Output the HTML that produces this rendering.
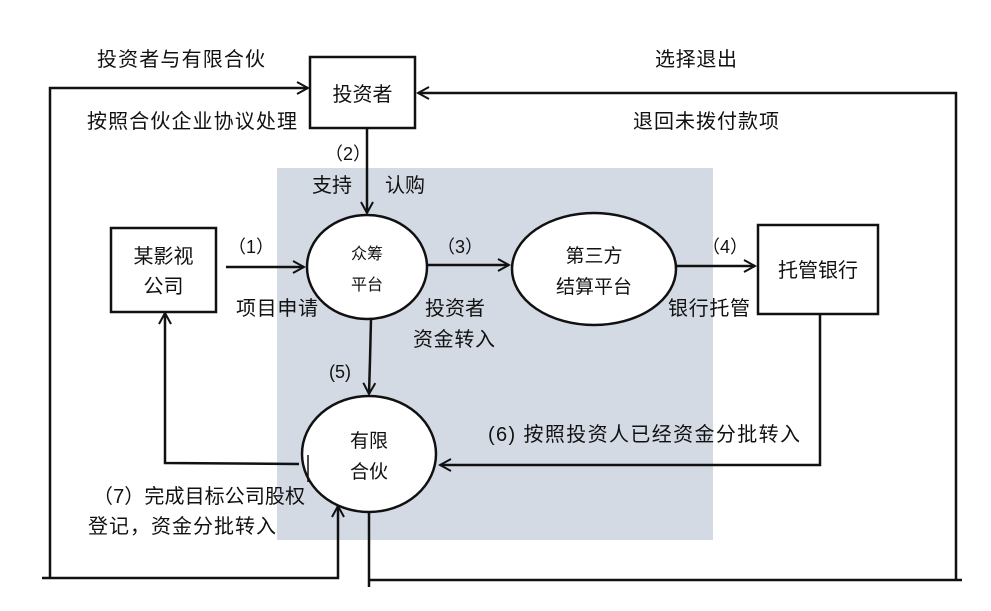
<!DOCTYPE html>
<html><head><meta charset="utf-8"><style>
html,body{margin:0;padding:0;background:#fff;}
svg{display:block;}
text{font-family:"Liberation Sans","Noto Sans CJK SC",sans-serif;fill:#111;}
</style></head><body>
<svg width="991" height="611" viewBox="0 0 991 611" xmlns="http://www.w3.org/2000/svg">
<defs>
<marker id="a" markerWidth="14" markerHeight="14" refX="12" refY="7" orient="auto" markerUnits="userSpaceOnUse">
<path d="M1,1 L12,7 L1,13" fill="none" stroke="#111" stroke-width="2"/>
</marker>
</defs>
<rect x="277" y="168" width="436" height="372" fill="#d4dae4"/>
<g stroke="#111" stroke-width="2.5" fill="none">
<rect x="310" y="57" width="105" height="71" fill="#fff"/>
<rect x="111" y="228" width="105" height="84" fill="#fff"/>
<rect x="758" y="225" width="120" height="89" fill="#fff"/>
<ellipse cx="367" cy="267" rx="60" ry="52" fill="#fff"/>
<ellipse cx="594" cy="269" rx="82" ry="56" fill="#fff"/>
<ellipse cx="369" cy="454" rx="67" ry="58" fill="#fff"/>
<line x1="367" y1="128" x2="367" y2="213" marker-end="url(#a)"/>
<line x1="226" y1="267" x2="304" y2="267" marker-end="url(#a)"/>
<line x1="428" y1="265" x2="509" y2="265" marker-end="url(#a)"/>
<line x1="677" y1="266" x2="755" y2="266" marker-end="url(#a)"/>
<polyline points="371,319 370,360 369,394" marker-end="url(#a)"/>
<polyline points="820,314 820,465 440,465" marker-end="url(#a)"/>
<polyline points="299,464 165,463 165,313" marker-end="url(#a)"/>
<polyline points="50,578 50,88 308,88" marker-end="url(#a)"/>
<polyline points="42,578 338,578 338,506" marker-end="url(#a)"/>
<polyline points="369,512 369,587"/>
<polyline points="369,580 962,580"/>
<polyline points="956,580 956,93 418,93" marker-end="url(#a)"/>
<line x1="308" y1="455" x2="308" y2="482" stroke-width="1.5"/>
</g>
<g font-size="20">
<text x="97" y="66" textLength="168">投资者与有限合伙</text>
<text x="87" y="128" textLength="210">按照合伙企业协议处理</text>
<text x="655" y="66" textLength="82">选择退出</text>
<text x="633" y="128" textLength="146">退回未拨付款项</text>
<text x="325" y="160" font-size="18">（2）</text>
<text x="312" y="192">支持</text>
<text x="385" y="192">认购</text>
<text x="228" y="253" font-size="18">（1）</text>
<text x="236" y="315" textLength="82">项目申请</text>
<text x="437" y="253" font-size="18">（3）</text>
<text x="425" y="315">投资者</text>
<text x="413" y="346" textLength="82">资金转入</text>
<text x="702" y="253" font-size="18">（4）</text>
<text x="668" y="315" textLength="82">银行托管</text>
<text x="329" y="378" font-size="18">(5)</text>
<text x="488" y="441" textLength="312">(6) 按照投资人已经资金分批转入</text>
<text x="93" y="503" textLength="212">（7）完成目标公司股权</text>
<text x="88" y="533" textLength="188">登记，资金分批转入</text>
<text x="362.5" y="101" font-size="20" text-anchor="middle">投资者</text>
<text x="163.5" y="263" text-anchor="middle">某影视</text>
<text x="163.5" y="293" text-anchor="middle">公司</text>
<text x="818" y="277" text-anchor="middle">托管银行</text>
<text x="367" y="259" font-size="16" text-anchor="middle">众筹</text>
<text x="367" y="290" font-size="16" text-anchor="middle">平台</text>
<text x="594" y="262" font-size="19" text-anchor="middle">第三方</text>
<text x="594" y="293" font-size="19" text-anchor="middle">结算平台</text>
<text x="369" y="447" font-size="19" text-anchor="middle">有限</text>
<text x="369" y="478" font-size="19" text-anchor="middle">合伙</text>
</g>
</svg>
</body></html>
